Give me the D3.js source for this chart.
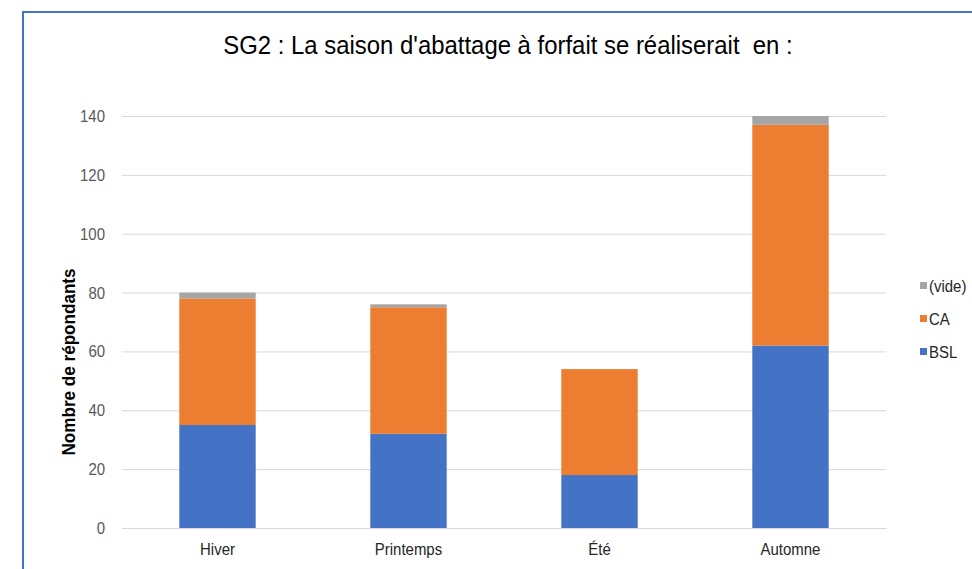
<!DOCTYPE html>
<html>
<head>
<meta charset="utf-8">
<script src="https://cdn.jsdelivr.net/npm/d3@7"></script>
<style>
  html, body { margin: 0; padding: 0; background: #fff; }
  svg { display: block; font-family: "Liberation Sans", Arial, sans-serif; }
</style>
</head>
<body>
<svg id="chart" width="972" height="569"></svg>
<script>
// Saisons et répondants par région
const categories = ["Hiver", "Printemps", "Été", "Automne"];
const seriesNames = ["BSL", "CA", "(vide)"];
const bslValues = [35, 32, 18, 62];
const caValues = [43, 43, 36, 75];
const videValues = [2, 1, 0, 3];
const yTicks = [0, 20, 40, 60, 80, 100, 120, 140];
const colors = { "BSL": "#4472C4", "CA": "#ED7D31", "(vide)": "#A5A5A5" };

const rows = categories.map((c, i) => ({
  cat: c, "BSL": bslValues[i], "CA": caValues[i], "(vide)": videValues[i]
}));

// Texte légèrement resserré horizontalement
const NARROW = 0.88;

const svg = d3.select("#chart");

// Cadre
svg.append("path")
  .attr("d", "M23,569 L23,12 L972,12")
  .attr("fill", "none")
  .attr("stroke", "#4472C4")
  .attr("stroke-width", 2);

svg.append("text")
  .attr("transform", "translate(508,54) scale(0.92,1)")
  .attr("text-anchor", "middle")
  .attr("font-size", 26)
  .attr("fill", "#000")
  .style("white-space", "pre")
  .text("SG2 : La saison d'abattage à forfait se réaliserait  en :");

const plot = { left: 122, right: 886, top: 116, bottom: 528 };

const x = d3.scaleBand()
  .domain(categories)
  .range([plot.left, plot.right])
  .paddingInner(0.6)
  .paddingOuter(0.3);

const y = d3.scaleLinear()
  .domain([0, 140])
  .range([plot.bottom, plot.top]);

// Grille
svg.append("g")
  .selectAll("line")
  .data(yTicks)
  .join("line")
  .attr("x1", plot.left).attr("x2", plot.right)
  .attr("y1", d => y(d) + 0.5).attr("y2", d => y(d) + 0.5)
  .attr("stroke", "#D9D9D9")
  .attr("stroke-width", 1);

// Axe Y
const yAxis = svg.append("g")
  .attr("transform", `translate(${plot.left},0)`)
  .call(d3.axisLeft(y).tickValues(yTicks).tickSize(0).tickPadding(17 / NARROW));
yAxis.select(".domain").remove();
yAxis.selectAll("text")
  .attr("transform", `scale(${NARROW},1)`)
  .attr("font-size", 17)
  .attr("fill", "#595959")
  .attr("font-family", "Liberation Sans, Arial, sans-serif");

// Axe X
const xAxis = svg.append("g")
  .attr("transform", `translate(0,${plot.bottom})`)
  .call(d3.axisBottom(x).tickSize(0).tickPadding(15));
xAxis.select(".domain").attr("stroke", "#D9D9D9");
xAxis.selectAll("text")
  .attr("transform", `scale(${NARROW},1)`)
  .attr("font-size", 17)
  .attr("fill", "#262626")
  .attr("font-family", "Liberation Sans, Arial, sans-serif");

// Barres empilées
const stack = d3.stack().keys(seriesNames)(rows);
svg.append("g")
  .selectAll("g")
  .data(stack)
  .join("g")
  .attr("fill", d => colors[d.key])
  .selectAll("rect")
  .data(d => d)
  .join("rect")
  .attr("x", d => x(d.data.cat))
  .attr("width", x.bandwidth())
  .attr("y", d => y(d[1]))
  .attr("height", d => y(d[0]) - y(d[1]));

// Titre de l'axe Y
svg.append("text")
  .attr("transform", `translate(75,362) rotate(-90) scale(0.95,1)`)
  .attr("text-anchor", "middle")
  .attr("font-size", 18)
  .attr("font-weight", "bold")
  .attr("fill", "#000")
  .text("Nombre de répondants");

// Légende
const legendOrder = ["(vide)", "CA", "BSL"];
const legend = svg.append("g")
  .selectAll("g")
  .data(legendOrder)
  .join("g")
  .attr("transform", (d, i) => `translate(920,${286 + i * 33})`);
legend.append("rect")
  .attr("x", 0).attr("y", -4)
  .attr("width", 7).attr("height", 7)
  .attr("fill", d => colors[d]);
legend.append("text")
  .attr("transform", `translate(9,6) scale(${NARROW},1)`)
  .attr("font-size", 17)
  .attr("fill", "#262626")
  .text(d => d);
</script>
</body>
</html>
